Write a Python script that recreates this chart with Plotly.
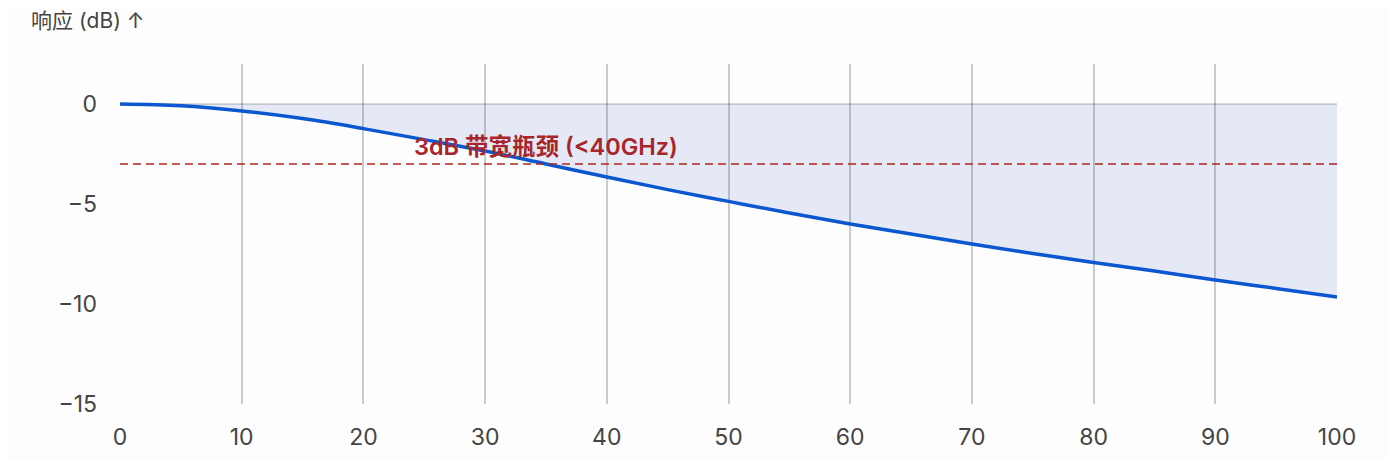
import plotly.graph_objects as go

# frequency (GHz) and response (dB)
freq = [0, 5, 10, 15, 20, 25, 30, 35, 40, 45, 50, 55, 60, 65, 70, 75, 80, 85, 90, 95, 100]
response = [0, -0.09, -0.35, -0.73, -1.23, -1.78, -2.35, -3.0, -3.65, -4.28, -4.87,
            -5.45, -6.0, -6.5, -7.0, -7.47, -7.92, -8.35, -8.8, -9.22, -9.65]
baseline = [0] * len(freq)

threshold = -3
threshold_label = "3dB 带宽瓶颈 (<40GHz)"
y_title = "响应 (dB) ↑"
x_ticks = [0, 10, 20, 30, 40, 50, 60, 70, 80, 90, 100]
y_ticks = [0, -5, -10, -15]

FONT = "Inter, Noto Sans CJK SC, sans-serif"

fig = go.Figure()

fig.add_trace(go.Scatter(
    x=freq, y=baseline, mode="lines",
    line=dict(color="rgba(0,0,0,0.2)", width=1.5),
    hoverinfo="skip", showlegend=False,
))
fig.add_trace(go.Scatter(
    x=freq, y=response, mode="lines",
    line=dict(color="#0B57D0", width=3.5, shape="spline"),
    fill="tonexty", fillcolor="rgba(23,63,183,0.1)",
    showlegend=False,
))

fig.add_shape(
    type="line", x0=freq[0], x1=freq[-1], y0=threshold, y1=threshold,
    line=dict(color="#B3261E", width=1.5, dash="8px,5px"),
)
fig.add_annotation(
    x=35, y=-2.1, text=threshold_label, showarrow=False,
    font=dict(family=FONT, size=23.5, color="#A8262A", weight=600),
)
fig.add_annotation(
    xref="paper", yref="paper", x=-0.0745, y=1.129, xanchor="left", yanchor="middle",
    text=y_title, showarrow=False,
    font=dict(family=FONT, size=21, color="#444444"),
)

fig.update_layout(
    width=1380, height=452,
    margin=dict(l=112, r=51, t=56, b=56),
    paper_bgcolor="#FDFDFD", plot_bgcolor="#FDFDFD",
    font=dict(family=FONT, size=23, color="#444444"),
)
fig.update_xaxes(
    range=[0, 100], tickvals=x_ticks, showgrid=True,
    gridcolor="rgba(0,0,0,0.2)", gridwidth=1.5, automargin=False,
    zeroline=False, showline=False, ticklabelstandoff=17,
)
fig.update_yaxes(
    range=[-15, 2], tickvals=y_ticks, showgrid=False, automargin=False,
    zeroline=False, showline=False, ticklabelstandoff=22,
)

fig.write_html("out.html")
